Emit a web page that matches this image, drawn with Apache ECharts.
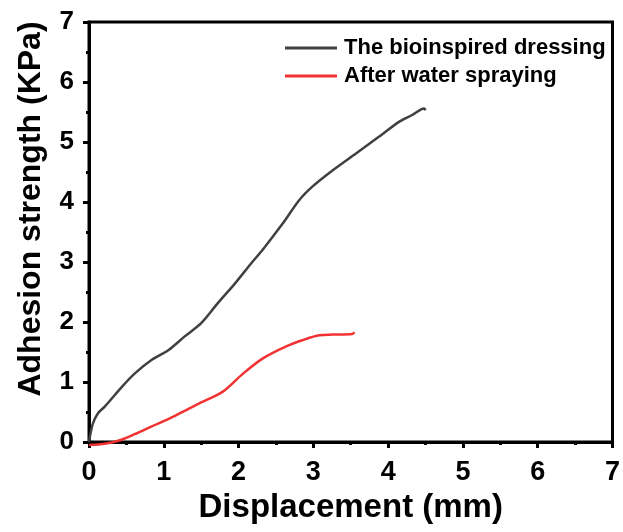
<!DOCTYPE html>
<html>
<head>
<meta charset="utf-8">
<title>Adhesion strength</title>
<script src="https://cdn.jsdelivr.net/npm/echarts@6/dist/echarts.min.js"></script>
<style>
    html, body { margin: 0; padding: 0; background: #fff; }
    #main { width: 623px; height: 532px; }
</style>
</head>
<body>
<div id="main"></div>
<script>
// data
var dressingX = [0, 0.05, 0.12, 0.21, 0.44, 0.61, 0.84, 1.06, 1.28, 1.50, 1.72, 1.95, 2.17, 2.32, 2.59, 2.81, 2.99, 3.26, 3.57, 3.88, 4.15, 4.32, 4.48, 4.50];
var dressingY = [0, 0.30, 0.48, 0.59, 0.92, 1.14, 1.37, 1.53, 1.76, 1.98, 2.31, 2.64, 2.98, 3.20, 3.64, 4.03, 4.26, 4.53, 4.81, 5.09, 5.34, 5.45, 5.56, 5.53];
var sprayX = [0, 0.21, 0.39, 0.61, 0.84, 1.06, 1.28, 1.50, 1.79, 2.06, 2.32, 2.63, 2.86, 3.08, 3.26, 3.52, 3.55];
var sprayY = [-0.05, -0.03, 0.02, 0.13, 0.26, 0.38, 0.52, 0.66, 0.84, 1.14, 1.39, 1.59, 1.70, 1.78, 1.79, 1.80, 1.83];
var seriesNames = ['The bioinspired dressing', 'After water spraying'];
var xTitle = 'Displacement (mm)';
var yTitle = 'Adhesion strength (KPa)';

function pairs(xs, ys) {
    var out = [];
    for (var i = 0; i < xs.length; i++) out.push([xs[i], ys[i]]);
    return out;
}

var myChart = echarts.init(document.getElementById('main'));
var font = 'Arial, "Liberation Sans", sans-serif';

var axisCommon = {
    type: 'value',
    min: 0,
    max: 7,
    interval: 1,
    nameLocation: 'middle',
    axisLine: { show: true, onZero: false, lineStyle: { color: '#000', width: 3 } },
    axisTick: { show: true, inside: false, length: 6, lineStyle: { color: '#000', width: 3 } },
    minorTick: { show: true, splitNumber: 2, length: 3, lineStyle: { color: '#000', width: 3 } },
    splitLine: { show: false }
};

var option = {
    animation: false,
    backgroundColor: '#fff',
    grid: {
        left: 89, right: 10, top: 22, bottom: 90,
        show: true, borderColor: '#000', borderWidth: 3, backgroundColor: 'transparent'
    },
    legend: {
        left: 280,
        top: 32,
        orient: 'vertical',
        align: 'left',
        itemWidth: 52,
        itemHeight: 3,
        itemGap: 6,
        icon: 'rect',
        textStyle: { fontFamily: font, fontWeight: 'bold', fontSize: 22, color: '#000', padding: [0, 0, 0, 2] },
        data: seriesNames
    },
    xAxis: Object.assign({}, axisCommon, {
        name: xTitle,
        nameGap: 49,
        nameTextStyle: { fontFamily: font, fontWeight: 'bold', fontSize: 33, color: '#000' },
        axisLabel: { fontFamily: font, fontWeight: 'bold', fontSize: 27, color: '#000', margin: 17 }
    }),
    yAxis: Object.assign({}, axisCommon, {
        name: yTitle,
        nameGap: 42,
        nameTextStyle: { fontFamily: font, fontWeight: 'bold', fontSize: 32, color: '#000', padding: [0, 0, 0, 46] },
        axisLabel: { fontFamily: font, fontWeight: 'bold', fontSize: 26, color: '#000', margin: 15 }
    }),
    series: [
        {
            name: seriesNames[0],
            type: 'line',
            data: pairs(dressingX, dressingY),
            smooth: 0.3,
            showSymbol: false,
            clip: false,
            z: 5,
            color: '#404040',
            lineStyle: { color: '#404040', width: 2.5 }
        },
        {
            name: seriesNames[1],
            type: 'line',
            data: pairs(sprayX, sprayY),
            smooth: 0.3,
            showSymbol: false,
            clip: false,
            z: 5,
            color: '#f23232',
            lineStyle: { color: '#f23232', width: 2.5 }
        }
    ]
};
myChart.setOption(option);
</script>
</body>
</html>
